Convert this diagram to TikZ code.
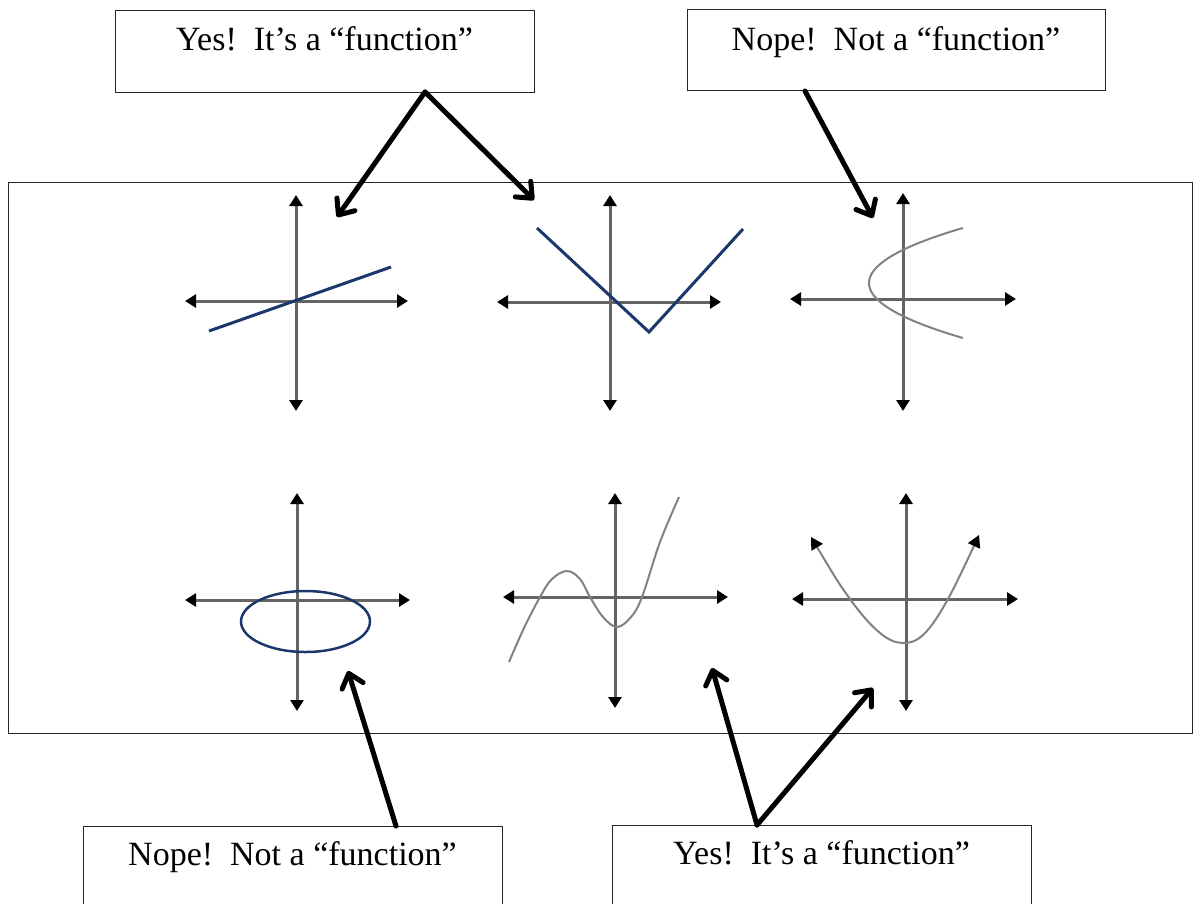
\documentclass[tikz,border=0pt]{standalone}
\usepackage{fontspec}
\setmainfont{Liberation Serif}
\usetikzlibrary{arrows.meta}
\definecolor{fnavy}{RGB}{28,55,108}
\definecolor{axgray}{RGB}{100,100,100}
\definecolor{cgray}{RGB}{130,130,130}
\begin{document}
\begin{tikzpicture}[x=1pt,y=-1pt,
  box/.style={draw=black!85, line width=1.3pt, inner sep=0pt, anchor=north west},
  lbl/.style={font=\fontsize{34}{40}\selectfont, inner sep=0pt, anchor=base},
  callout/.style={line width=5pt, line cap=round, -{Straight Barb[length=13pt,width=22pt,round]}},
  axis/.style={draw=axgray, line width=3pt, {Triangle[width=13pt,length=11pt,black]}-{Triangle[width=13pt,length=11pt,black]}},
  fblue/.style={draw=fnavy, line width=3pt},
  fgray/.style={draw=cgray, line width=2pt}
]
\useasboundingbox (0,0) rectangle (1193,903);
\clip (0,0) rectangle (1193,903);

% main frame
\node[box, minimum width=1184pt, minimum height=551pt] (frame) at (8,182) {};

% label boxes
\node[box, minimum width=419pt, minimum height=82pt] (b1) at (115,10) {};
\node[box, minimum width=418pt, minimum height=81pt] (b2) at (687,9) {};
\node[box, minimum width=419pt, minimum height=130pt] (b3) at (83,826) {};
\node[box, minimum width=419pt, minimum height=130pt] (b4) at (612,825) {};

\node[lbl] (t1) at (324.5,50) {Yes!~~It’s a “function”};
\node[lbl] (t2) at (896,50) {Nope!~~Not a “function”};
\node[lbl] (t3) at (292.5,865) {Nope!~~Not a “function”};
\node[lbl] (t4) at (821.5,864) {Yes!~~It’s a “function”};

% graph 1: line
\draw[axis] (185,301) -- (408,301);
\draw[axis] (296,195) -- (296,411);
\draw[fblue] (209,331) -- (391,267);

% graph 2: absolute value
\draw[axis] (497,302) -- (721,302);
\draw[axis] (610,195) -- (610,411);
\draw[fblue, line join=miter] (537,228) -- (649,332) -- (743,229);

% graph 3: sideways parabola
\draw[axis] (790,299) -- (1016,299);
\draw[axis] (903,193) -- (903,411);
\draw[fgray] plot[domain=-55:55, samples=45] ({869+0.031*\x*\x},{283+\x});

% graph 4: ellipse
\draw[axis] (185,600) -- (410,600);
\draw[axis] (297,493) -- (297,711);
\draw[fblue, line width=2.5pt] (305.5,621.5) ellipse [x radius=64.5pt, y radius=30.5pt];

% graph 5: cubic
\draw[axis] (503,597) -- (728,597);
\draw[axis] (615,493) -- (615,708);
\draw[fgray] plot[smooth, tension=0.6] coordinates {(509,662) (524,628) (540,597) (552,579) (567,571) (580,579) (590,597) (603,617) (617,627) (631,617) (642,597) (660,542) (679,497)};

% graph 6: parabola with arrows
\draw[axis] (792,599) -- (1018,599);
\draw[axis] (906,493) -- (906,711);
\draw[fgray, {Triangle[width=13pt,length=12pt,black]}-{Triangle[width=13pt,length=12pt,black]}] plot[smooth, tension=0.6] coordinates {(811,537) (850,599) (880,633) (903,643) (924,634) (948,599) (979,535)};

% callout arrows
\coordinate (s1) at (425,92);
\coordinate (p1a) at (337,217);
\coordinate (p1b) at (534,200);
\coordinate (s2) at (805,91);
\coordinate (p2) at (873,218);
\coordinate (s3) at (396,826);
\coordinate (p3) at (348,671);
\coordinate (s4) at (757,825);
\coordinate (p4a) at (712,668);
\coordinate (p4b) at (873,688);

\draw[callout] (s1) -- (p1a);
\draw[callout] (s1) -- (p1b);
\draw[callout] (s2) -- (p2);
\draw[callout] (s3) -- (p3);
\draw[callout] (s4) -- (p4a);
\draw[callout] (s4) -- (p4b);
\end{tikzpicture}
\end{document}
